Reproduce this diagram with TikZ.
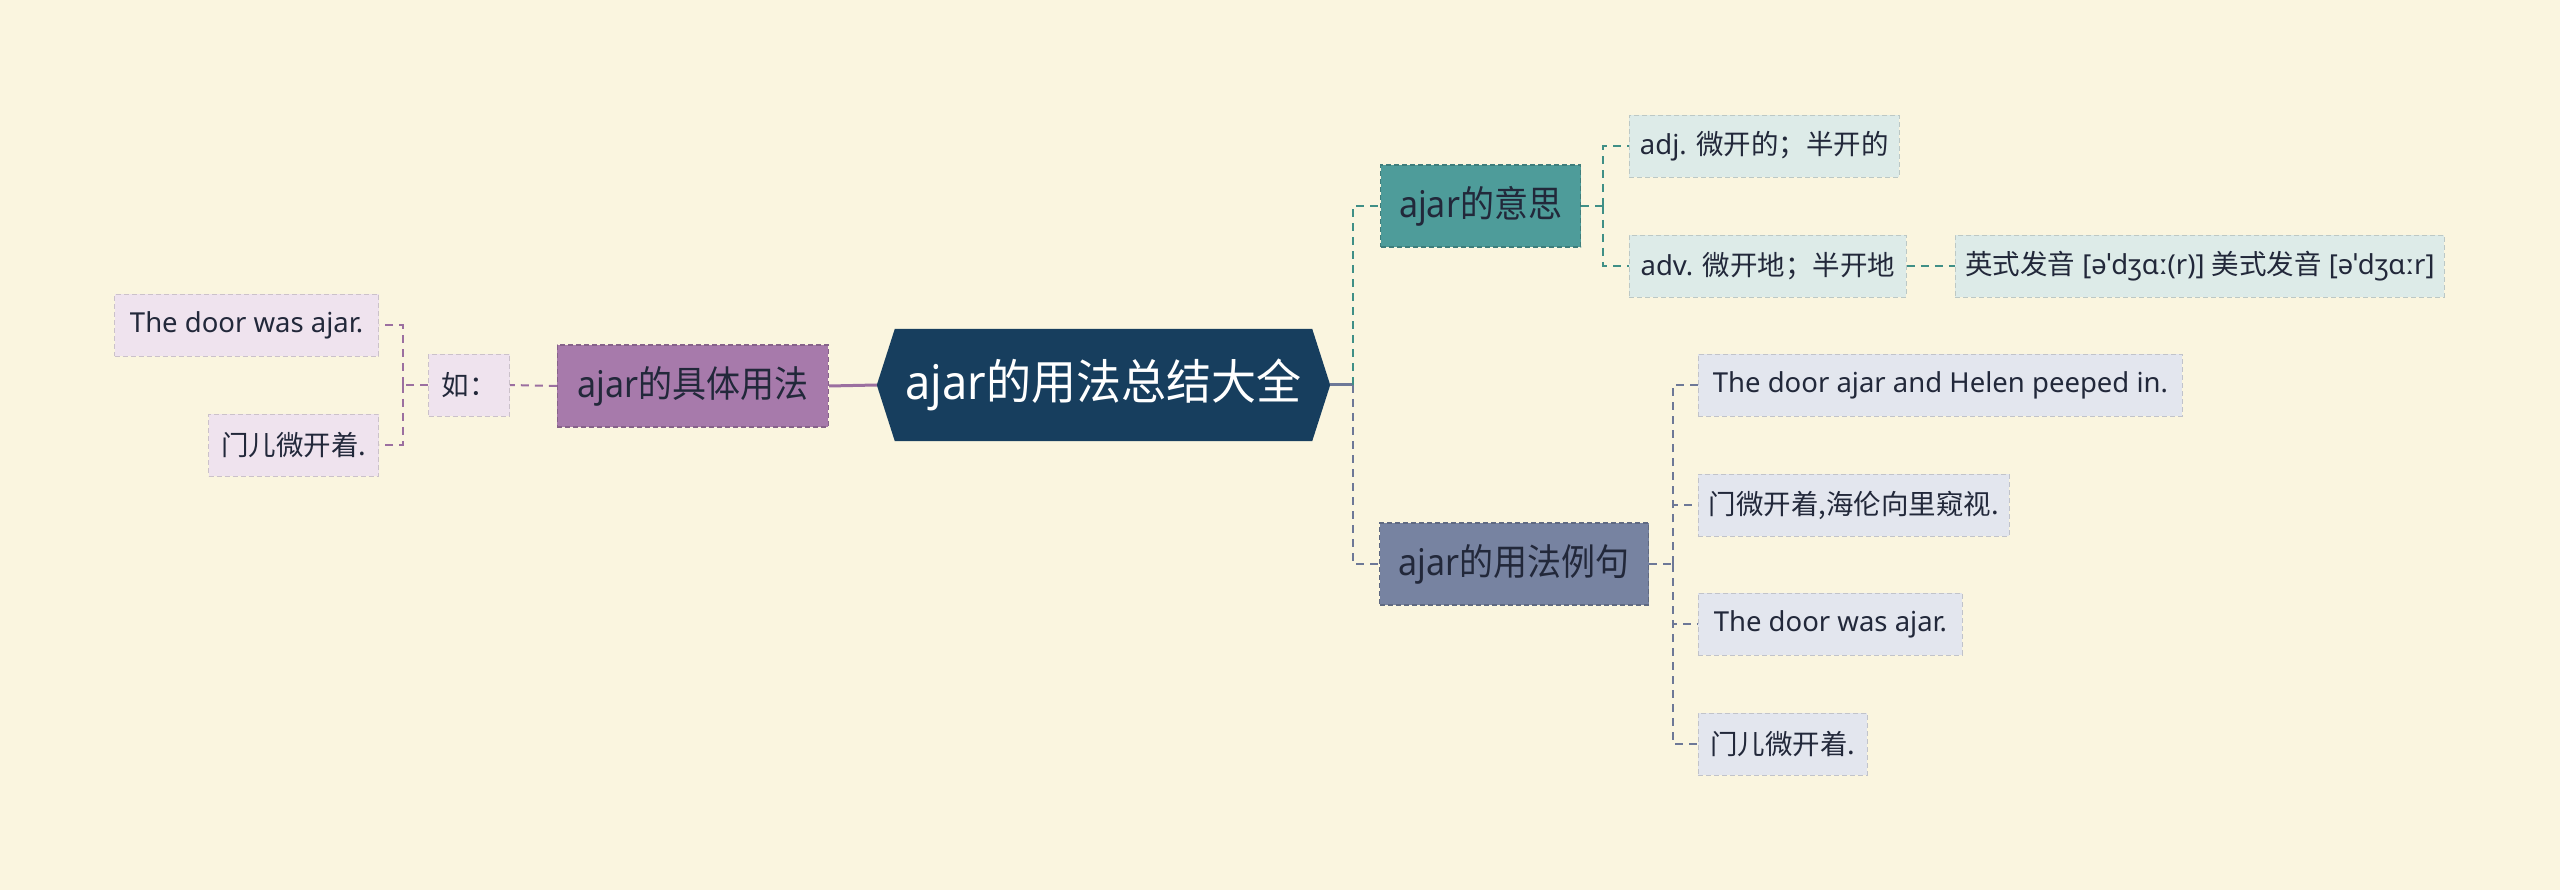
\documentclass[tikz,border=0pt]{standalone}
\usepackage{fontspec}
\usepackage{graphicx}
\setmainfont{Noto Sans}
\newfontfamily\cjk{Noto Sans CJK SC}
\usetikzlibrary{backgrounds}
\definecolor{bgc}{HTML}{FAF5DF}
\definecolor{rootc}{HTML}{173E5E}
\definecolor{tealc}{HTML}{4E9C9A}
\definecolor{teall}{HTML}{DDEBE8}
\definecolor{tealline}{HTML}{3F8F86}
\definecolor{purc}{HTML}{A77AAB}
\definecolor{purl}{HTML}{EFE3EE}
\definecolor{purline}{HTML}{9B6FA0}
\definecolor{slac}{HTML}{7783A1}
\definecolor{slal}{HTML}{E3E6EE}
\definecolor{slaline}{HTML}{6D7897}
\definecolor{txt}{HTML}{22283A}
\newcommand\tallt[1]{\scalebox{1}[1.08]{#1}}
\tikzset{
  mainbox/.style={draw=#1!80!black, dashed, dash pattern=on 5pt off 3pt, line width=1.2pt, fill=#1, text=txt,
    minimum height=82pt, inner xsep=4pt, font=\fontsize{34}{40}\selectfont},
  leafbox/.style={fill=#1, draw=#1!85!black, dashed, dash pattern=on 5pt off 3pt, line width=0.8pt, text=txt,
    minimum height=62pt, inner xsep=6pt, font=\fontsize{27.5}{32}\selectfont},
  conn/.style={draw=#1, line width=2pt, dash pattern=on 8pt off 6pt},
}
\begin{document}
\begin{tikzpicture}[x=1pt,y=-1pt]
\begin{scope}[on background layer]
\fill[bgc] (0,0) rectangle (2560,890);
\end{scope}
% root
\node[minimum width=453pt, minimum height=112pt, inner sep=0pt, text=white,
  font=\fontsize{45}{52}\selectfont] (root) at (1103.5,385) {\scalebox{1}[1.06]{ajar{\cjk 的用法总结大全}}};
\begin{scope}[on background layer]
\fill[rootc] (root.west) -- ([xshift=18pt]root.north west) -- ([xshift=-18pt]root.north east)
  -- (root.east) -- ([xshift=-18pt]root.south east) -- ([xshift=18pt]root.south west) -- cycle;
\end{scope}
% right branches
\node[mainbox=tealc, anchor=west, minimum width=200pt] (yisi) at (1380,206) {\tallt{ajar{\cjk 的意思}}};
\node[mainbox=slac, anchor=west, minimum width=269pt] (liju) at (1379,564) {\tallt{ajar{\cjk 的用法例句}}};
\node[leafbox=teall, anchor=west, minimum width=270pt] (adj) at (1629,146) {adj. {\cjk 微开的；半开的}};
\node[leafbox=teall, anchor=west, minimum width=277pt] (adv) at (1629,266) {adv. {\cjk 微开地；半开地}};
\node[leafbox=teall, anchor=west, minimum width=489pt] (pron) at (1955,266) {{\cjk 英式发音} [əˈdʒɑː(r)] {\cjk 美式发音} [əˈdʒɑːr]};
\node[leafbox=slal, anchor=west, minimum width=484pt] (l1) at (1698,385) {The door ajar and Helen peeped in.};
\node[leafbox=slal, anchor=west, minimum width=311pt] (l2) at (1698,505) {{\cjk 门微开着,海伦向里窥视.}};
\node[leafbox=slal, anchor=west, minimum width=264pt] (l3) at (1698,624) {The door was ajar.};
\node[leafbox=slal, anchor=west, minimum width=169pt] (l4) at (1698,744) {{\cjk 门儿微开着.}};
% left branch
\node[mainbox=purc, anchor=east, minimum width=271pt] (zjt) at (829,386) {\tallt{ajar{\cjk 的具体用法}}};
\node[leafbox=purl, anchor=east, minimum width=81pt] (ru) at (510,385) {{\cjk 如：}};
\node[leafbox=purl, anchor=east, minimum width=264pt] (door) at (379,325) {The door was ajar.};
\node[leafbox=purl, anchor=east, minimum width=170pt] (men) at (379,445) {{\cjk 门儿微开着.}};
% junctions
\coordinate (tr) at (1353,385);
\coordinate (ty) at (1603,206);
\coordinate (ts) at (1673,564);
\coordinate (tl) at (403,385);
% connectors
\draw[draw=purline, line width=3pt] (root.west) -- (zjt.east);
\draw[draw=slaline, line width=3pt] (root.east) -- (tr);
\draw[conn=tealline] (tr) |- (yisi.west);
\draw[conn=slaline] (tr) |- (liju.west);
\draw[conn=tealline] (yisi.east) -- (ty);
\draw[conn=tealline] (ty) |- (adj.west);
\draw[conn=tealline] (ty) |- (adv.west);
\draw[conn=tealline] (adv.east) -- (pron.west);
\draw[conn=slaline] (liju.east) -- (ts);
\draw[conn=slaline] (ts) |- (l1.west);
\draw[conn=slaline] (ts) |- (l2.west);
\draw[conn=slaline] (ts) |- (l3.west);
\draw[conn=slaline] (ts) |- (l4.west);
\draw[conn=purline] (zjt.west) -- (ru.east);
\draw[conn=purline] (ru.west) -- (tl);
\draw[conn=purline] (tl) |- (door.east);
\draw[conn=purline] (tl) |- (men.east);
\end{tikzpicture}
\end{document}
